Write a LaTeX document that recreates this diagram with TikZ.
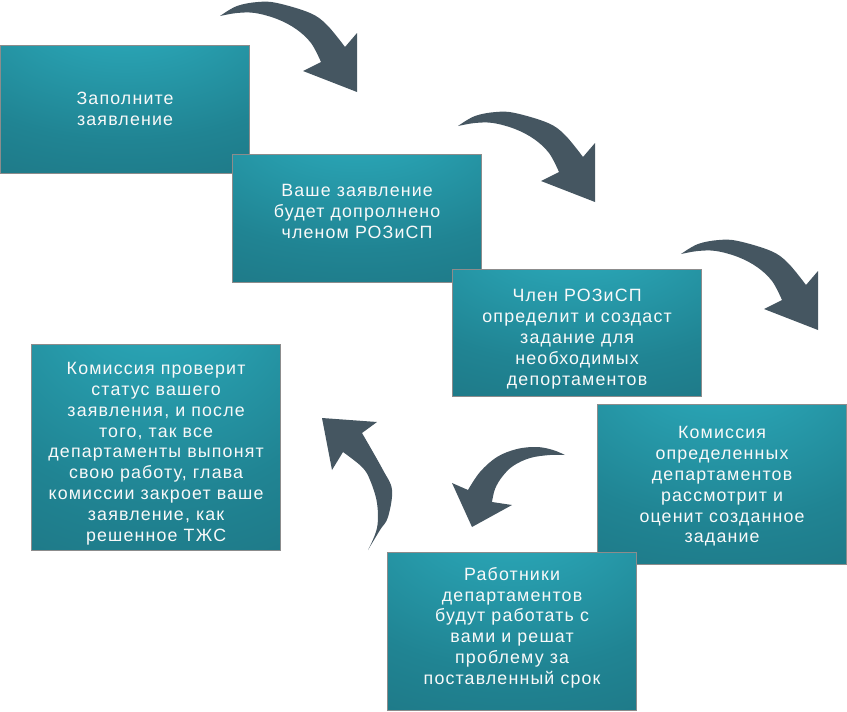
\documentclass[tikz,border=0pt]{standalone}
\usepackage{fontspec}
\setmainfont[LetterSpace=6.5]{Liberation Sans}
\definecolor{tlight}{RGB}{46,178,195}
\definecolor{tmid}{RGB}{32,132,147}
\definecolor{tdark}{RGB}{24,86,98}
\definecolor{arrowc}{RGB}{69,86,97}
\definecolor{boxline}{RGB}{140,140,140}
\pgfdeclareradialshading{boxshade}{\pgfpoint{0bp}{45bp}}{color(0bp)=(tlight); color(40bp)=(tmid); color(105bp)=(tdark)}
\tikzset{
  stepbox/.style={draw=boxline, line width=1.2pt, shading=boxshade, anchor=north west,
    inner sep=0pt, minimum width=249pt},
  steptext/.style={inner sep=0pt, align=center, text=white!95!gray,
    font=\fontsize{17.8}{20.8}\selectfont},
  bigarrow/.style={fill=arrowc, draw=none}
}
\begin{document}
\begin{tikzpicture}[x=1pt,y=-1pt]
\useasboundingbox (0,0) rectangle (847,712);
% boxes
\node[stepbox, minimum height=128pt] (b1) at (0,45) {};
\node[steptext] (t1) at ([yshift=1pt]b1.center) {Заполните\\заявление};
\node[stepbox, minimum height=128pt] (b2) at (232,154) {};
\node[steptext] (t2) at ([yshift=7pt]b2.center) {Ваше заявление\\будет допролнено\\членом РОЗиСП};
\node[stepbox, minimum height=127pt] (b3) at (452,269) {};
\node[steptext] (t3) at ([yshift=-6pt]b3.center) {Член РОЗиСП\\определит и создаст\\задание для\\необходимых\\депортаментов};
\node[stepbox, minimum height=160pt] (b4) at (597,404) {};
\node[steptext] (t4) at ([yshift=-2pt]b4.center) {Комиссия\\определенных\\департаментов\\рассмотрит и\\оценит созданное\\задание};
\node[stepbox, minimum height=158pt] (b5) at (387,552) {};
\node[steptext] (t5) at ([yshift=4pt]b5.center) {Работники\\департаментов\\будут работать с\\вами и решат\\проблему за\\поставленный срок};
\node[stepbox, minimum height=206pt] (b6) at (31,344) {};
\node[steptext] (t6) at ([yshift=-6pt]b6.center) {Комиссия проверит\\статус вашего\\заявления, и после\\того, так все\\департаменты выпонят\\свою работу, глава\\комиссии закроет ваше\\заявление, как\\решенное ТЖС};
% curved arrows 1-3 (same shape, shifted)
\foreach \dx/\dy in {0/0, 238/110, 461/238}{
  \fill[bigarrow, shift={(\dx,\dy)}]
    plot[smooth, tension=0.6] coordinates {(220,16) (237,6) (258,2) (277,3) (310,13) (327,25) (345,47)}
    -- (357,33) -- (357,92) -- (303,71) -- (321,62)
    -- plot[smooth, tension=0.6] coordinates {(321,62) (311,43) (296,29) (277,19) (255,13) (237,13) (220,16)} -- cycle;
}
% arrow 4 (down-left)
\fill[bigarrow]
  plot[smooth, tension=0.6] coordinates {(565,455) (553,450) (537,447) (517,449) (497,457) (480,472) (468,490)}
  -- (452,483) -- (472,527) -- (512,505) -- (492,502)
  -- plot[smooth, tension=0.6] coordinates {(492,502) (495,489) (502,477) (513,466) (530,458) (550,455) (565,455)} -- cycle;
% arrow 5 (up-left)
\fill[bigarrow]
  plot[smooth, tension=0.6] coordinates {(368,550) (380,530) (388,517) (392,490) (383,470) (362,433)}
  -- (377,422) -- (322,418) -- (332,470) -- (343,452)
  -- plot[smooth, tension=0.6] coordinates {(343,452) (362,467) (370,480) (377,503) (377,528) (368,550)} -- cycle;
\end{tikzpicture}
\end{document}
